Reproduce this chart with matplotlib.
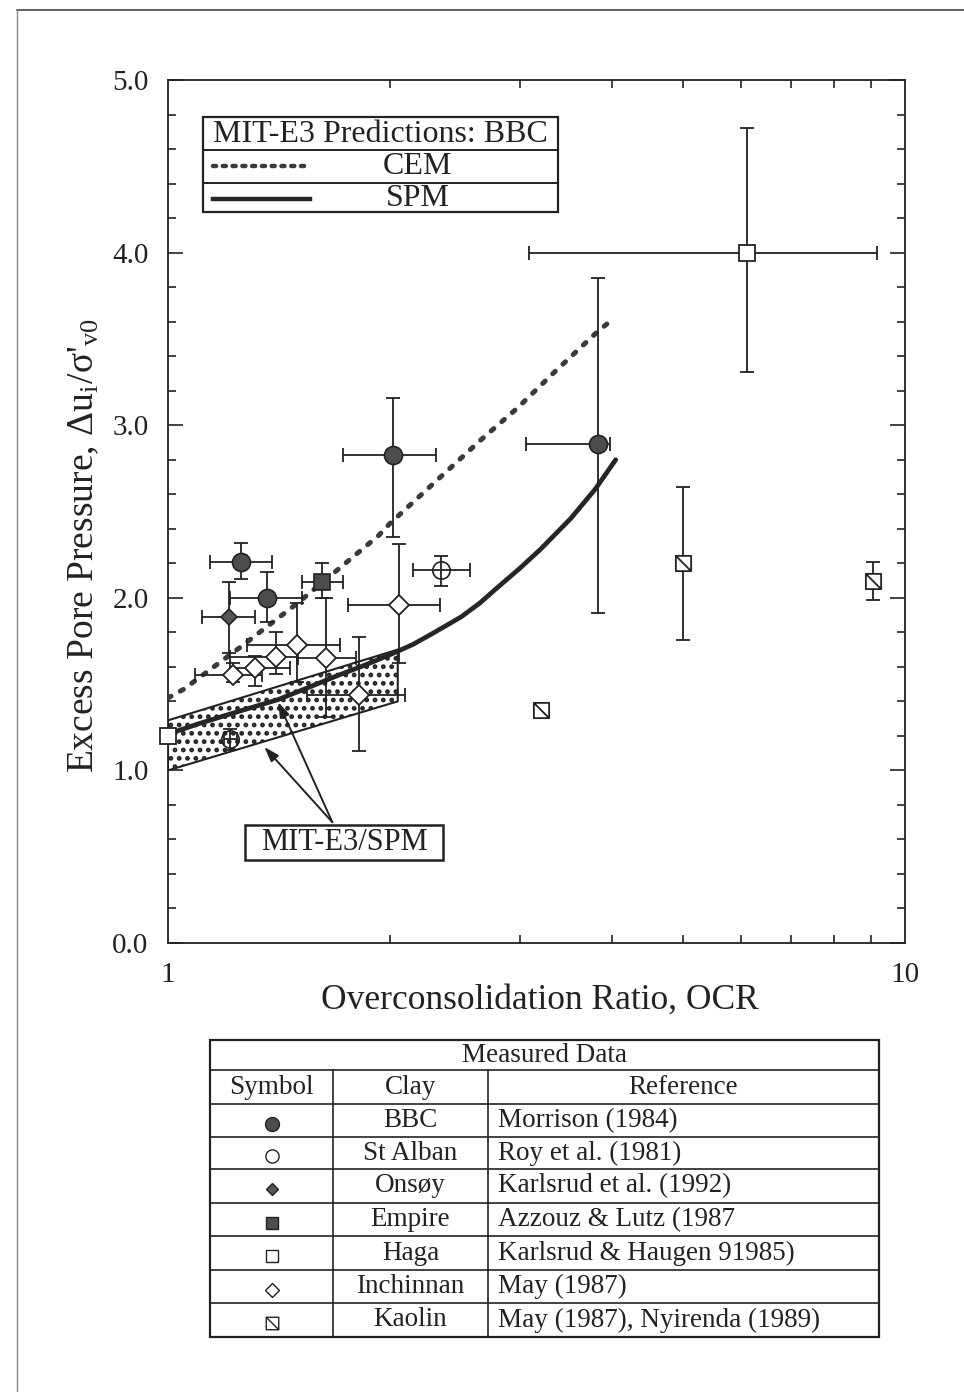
import numpy as np
import matplotlib
matplotlib.use("Agg")
import matplotlib.pyplot as plt
from matplotlib.lines import Line2D
from matplotlib.patches import Rectangle
from matplotlib.path import Path
from matplotlib.ticker import FixedLocator, NullFormatter, FixedFormatter, MultipleLocator

plt.rcParams['font.family'] = ['Liberation Serif', 'DejaVu Serif']
plt.rcParams['mathtext.fontset'] = 'stix'
plt.rcParams['hatch.linewidth'] = 2.2
plt.rcParams['hatch.color'] = '#222222'

# ---------------- data ----------------
# MIT-E3 predictions (BBC)
cem_ocr = [1.0, 1.05, 1.25, 1.5, 1.93, 2.0, 2.65, 2.98, 3.33, 3.8, 4.0]
cem_du = [1.42, 1.47, 1.71, 1.97, 2.36, 2.43, 2.91, 3.10, 3.30, 3.53, 3.61]
spm_ocr = [1.0, 1.1, 1.2, 1.3, 1.41, 1.55, 1.7, 1.85, 2.0, 2.15, 2.3, 2.5, 2.65, 2.8,
           3.0, 3.2, 3.52, 3.8, 4.05]
spm_du = [1.21, 1.27, 1.32, 1.365, 1.41, 1.48, 1.55, 1.61, 1.67, 1.73, 1.80, 1.89, 1.97,
          2.06, 2.17, 2.28, 2.46, 2.63, 2.80]
band_ocr = [1.0, 2.05]
band_lo = [1.00, 1.40]
band_hi = [1.29, 1.70]

# measured data: value, (low, high) in OCR and in du/s'v0
bbc_ocr = [1.257, 1.364, 2.02, 3.83]
bbc_du = [2.21, 2.00, 2.83, 2.89]
bbc_ocr_lo = [1.14, 1.214, 1.725, 3.06]
bbc_ocr_hi = [1.385, 1.521, 2.31, 3.98]
bbc_du_lo = [2.11, 1.86, 2.35, 1.91]
bbc_du_hi = [2.32, 2.15, 3.16, 3.85]

stalban_ocr = [2.35, 1.214]
stalban_du = [2.16, 1.18]
stalban_ocr_lo = [2.15, 1.19]
stalban_ocr_hi = [2.57, 1.24]
stalban_du_lo = [2.07, 1.12]
stalban_du_hi = [2.24, 1.24]

onsoy_ocr = [1.21]
onsoy_du = [1.89]
onsoy_ocr_lo = [1.112]
onsoy_ocr_hi = [1.313]
onsoy_du_lo = [1.68]
onsoy_du_hi = [2.09]

empire_ocr = [1.62]
empire_du = [2.09]
empire_ocr_lo = [1.52]
empire_ocr_hi = [1.725]
empire_du_lo = [2.00]
empire_du_hi = [2.20]

haga_ocr = [6.10, 1.0]
haga_du = [4.00, 1.20]
haga_ocr_lo = [3.09, 1.0]
haga_ocr_hi = [9.15, 1.0]
haga_du_lo = [3.31, 1.20]
haga_du_hi = [4.72, 1.20]

inch_ocr = [2.055, 1.498, 1.40, 1.64, 1.226, 1.313, 1.818]
inch_du = [1.96, 1.727, 1.657, 1.65, 1.553, 1.593, 1.437]
inch_ocr_lo = [1.757, 1.28, 1.214, 1.50, 1.088, 1.214, 1.545]
inch_ocr_hi = [2.34, 1.714, 1.498, 1.80, 1.34, 1.465, 2.10]
inch_du_lo = [1.62, 1.51, 1.56, 1.31, 1.51, 1.49, 1.11]
inch_du_hi = [2.31, 1.97, 1.80, 2.00, 1.62, 1.66, 1.77]

kaolin_ocr = [3.21, 5.0, 9.06]
kaolin_du = [1.35, 2.20, 2.10]
kaolin_du_lo = [1.35, 1.755, 1.99]
kaolin_du_hi = [1.35, 2.64, 2.21]

x_ticks = [1, 10]
x_ticklabels = ['1', '10']
y_ticks = [0, 1, 2, 3, 4, 5]
y_ticklabels = ['0.0', '1.0', '2.0', '3.0', '4.0', '5.0']

table_clays = ['BBC', 'St Alban', 'Onsøy', 'Empire', 'Haga', 'Inchinnan', 'Kaolin']
table_refs = ['Morrison (1984)', 'Roy et al. (1981)', 'Karlsrud et al. (1992)',
              'Azzouz & Lutz (1987', 'Karlsrud & Haugen 91985)', 'May (1987)',
              'May (1987), Nyirenda (1989)']

# ---------------- figure ----------------
W, H = 964, 1392
fig = plt.figure(figsize=(W / 100, H / 100), dpi=100)


def P(x, y):
    """pixel position -> figure fraction"""
    return x / W, 1 - y / H


INK = '#222222'
ax_l, ax_r, ax_t, ax_b = 168, 905, 80, 943
ax = fig.add_axes([ax_l / W, 1 - ax_b / H, (ax_r - ax_l) / W, (ax_b - ax_t) / H])
ax.set_xscale('log')
ax.set_xlim(1, 10)
ax.set_ylim(0, 5)

for s in ax.spines.values():
    s.set_linewidth(1.3)
    s.set_color(INK)

ax.xaxis.set_major_locator(FixedLocator(x_ticks))
ax.xaxis.set_major_formatter(FixedFormatter(x_ticklabels))
ax.xaxis.set_minor_locator(FixedLocator(range(2, 10)))
ax.xaxis.set_minor_formatter(NullFormatter())
ax.yaxis.set_major_locator(FixedLocator(y_ticks))
ax.yaxis.set_major_formatter(FixedFormatter(y_ticklabels))
ax.yaxis.set_minor_locator(MultipleLocator(0.2))
ax.tick_params(which='both', direction='in', top=True, right=True, color=INK, width=1.2,
               labelsize=21, labelcolor=INK)
ax.tick_params(axis='y', which='major', length=11, pad=14)
ax.tick_params(axis='y', which='minor', length=6)
ax.tick_params(axis='x', which='major', length=0, pad=14)
ax.tick_params(axis='x', which='minor', length=6)

# stippled SPM band
ax.fill_between(band_ocr, band_lo, band_hi, facecolor='white', edgecolor=INK,
                hatch='..', linewidth=1.5, zorder=2)

# prediction curves
ax.plot(cem_ocr, cem_du, color='#3a3a3a', lw=3.6, ls=(0, (0.7, 2.1)),
        dash_capstyle='round', zorder=3)
ax.plot(spm_ocr, spm_du, color='#262626', lw=3.4, solid_capstyle='round',
        solid_joinstyle='round', zorder=3)

ebkw = dict(fmt='none', ecolor=INK, elinewidth=1.3, capsize=5, capthick=1.3, zorder=4)


def errs(v, lo, hi):
    v = np.asarray(v, float)
    return [v - np.asarray(lo, float), np.asarray(hi, float) - v]


# kaolin marker: square with a diagonal
kaolin_marker = Path([(-1, -1), (1, -1), (1, 1), (-1, 1), (-1, -1), (-1, 1), (1, -1)],
                     [Path.MOVETO, Path.LINETO, Path.LINETO, Path.LINETO, Path.CLOSEPOLY,
                      Path.MOVETO, Path.LINETO])

groups = [
    (bbc_ocr, bbc_du, bbc_ocr_lo, bbc_ocr_hi, bbc_du_lo, bbc_du_hi,
     dict(marker='o', ms=13, mfc='#4d4d4d', mec=INK, mew=1.2)),
    (stalban_ocr, stalban_du, stalban_ocr_lo, stalban_ocr_hi, stalban_du_lo, stalban_du_hi,
     dict(marker='o', ms=12.5, mfc='none', mec=INK, mew=1.2)),
    (onsoy_ocr, onsoy_du, onsoy_ocr_lo, onsoy_ocr_hi, onsoy_du_lo, onsoy_du_hi,
     dict(marker='D', ms=8.5, mfc='#555555', mec=INK, mew=1.2)),
    (empire_ocr, empire_du, empire_ocr_lo, empire_ocr_hi, empire_du_lo, empire_du_hi,
     dict(marker='s', ms=11, mfc='#4d4d4d', mec=INK, mew=1.2)),
    (haga_ocr, haga_du, haga_ocr_lo, haga_ocr_hi, haga_du_lo, haga_du_hi,
     dict(marker='s', ms=11.5, mfc='white', mec=INK, mew=1.3)),
    (inch_ocr, inch_du, inch_ocr_lo, inch_ocr_hi, inch_du_lo, inch_du_hi,
     dict(marker='D', ms=10, mfc='white', mec=INK, mew=1.3)),
    (kaolin_ocr, kaolin_du, kaolin_ocr, kaolin_ocr, kaolin_du_lo, kaolin_du_hi,
     dict(marker=kaolin_marker, ms=11, mfc='white', mec=INK, mew=1.3)),
]
for ox, oy, xlo, xhi, ylo, yhi, mk in groups:
    ax.errorbar(ox, oy, xerr=errs(ox, xlo, xhi), yerr=errs(oy, ylo, yhi), **ebkw)
    ax.plot(ox, oy, ls='none', zorder=5, clip_on=False, **mk)

# MIT-E3/SPM label with pointers
arrow_kw = dict(arrowstyle='-|>,head_length=0.9,head_width=0.3', color=INK, lw=1.4,
                shrinkA=0, shrinkB=0)
ax.annotate('', xy=(1.411, 1.396), xytext=(1.671, 0.70), arrowprops=arrow_kw, zorder=6)
ax.annotate('', xy=(1.351, 1.136), xytext=(1.671, 0.70), arrowprops=arrow_kw, zorder=6)
fig.patches.append(Rectangle(P(245, 860), 198 / W, 35 / H, transform=fig.transFigure,
                             facecolor='white', edgecolor=INK, lw=1.8, zorder=1))
fig.text(*P(344, 843), 'MIT-E3/SPM', ha='center', va='center', fontsize=22, color=INK,
         zorder=7)

# prediction legend box
lx0, lx1, ly0, ly1 = 203, 558, 117, 212
fig.patches.append(Rectangle(P(lx0, ly1), (lx1 - lx0) / W, (ly1 - ly0) / H,
                             transform=fig.transFigure, facecolor='white', edgecolor=INK,
                             lw=1.6, zorder=1))
for yy in (150, 183):
    fig.add_artist(Line2D([lx0 / W, lx1 / W], [1 - yy / H] * 2, color=INK, lw=1.4, zorder=6))
fig.text(*P(380, 134), 'MIT-E3 Predictions: BBC', ha='center', va='center',
         fontsize=23, color=INK, zorder=7)
fig.add_artist(Line2D([213 / W, 305 / W], [1 - 166 / H] * 2, color='#3a3a3a', lw=3.2,
                      ls=(0, (0.7, 1.5)), dash_capstyle='round', zorder=6))
fig.text(*P(418, 166), 'CEM', ha='center', va='center', fontsize=23, color=INK, zorder=7)
fig.add_artist(Line2D([213 / W, 310 / W], [1 - 199 / H] * 2, color='#262626', lw=3.2,
                      zorder=6))
fig.text(*P(418, 199), 'SPM', ha='center', va='center', fontsize=23, color=INK, zorder=7)

# axis titles
fig.text(*P(540, 1000), 'Overconsolidation Ratio, OCR', ha='center', va='center',
         fontsize=25.5, color=INK)
fig.text(*P(84, 545), "Excess Pore Pressure, Δu$_{\\mathregular{i}}$/σ'$_{\\mathregular{v0}}$",
         ha='center', va='center', rotation=90, fontsize=27, color=INK)

# measured-data table
tx0, tx1, ty0, ty1 = 210, 879, 1040, 1337
c1, c2 = 333, 488
rows = [1070, 1104, 1137, 1169, 1203, 1236, 1270, 1303]
fig.patches.append(Rectangle(P(tx0, ty1), (tx1 - tx0) / W, (ty1 - ty0) / H,
                             transform=fig.transFigure, facecolor='none', edgecolor=INK,
                             lw=1.6))
for yy in rows:
    fig.add_artist(Line2D([tx0 / W, tx1 / W], [1 - yy / H] * 2, color=INK, lw=1.2))
for xx in (c1, c2):
    fig.add_artist(Line2D([xx / W] * 2, [1 - rows[0] / H, 1 - ty1 / H], color=INK, lw=1.2))

TFS = 19.5
fig.text(*P((tx0 + tx1) / 2, 1055), 'Measured Data', ha='center', va='center',
         fontsize=TFS, color=INK)
fig.text(*P((tx0 + c1) / 2, 1087), 'Symbol', ha='center', va='center', fontsize=TFS, color=INK)
fig.text(*P((c1 + c2) / 2, 1087), 'Clay', ha='center', va='center', fontsize=TFS, color=INK)
fig.text(*P((c2 + tx1) / 2, 1087), 'Reference', ha='center', va='center', fontsize=TFS,
         color=INK)

table_marks = [
    dict(marker='o', ms=10, mfc='#4d4d4d', mec=INK, mew=1.0),
    dict(marker='o', ms=9.5, mfc='white', mec=INK, mew=1.0),
    dict(marker='D', ms=6.5, mfc='#555555', mec=INK, mew=1.0),
    dict(marker='s', ms=9, mfc='#4d4d4d', mec=INK, mew=1.0),
    dict(marker='s', ms=9, mfc='white', mec=INK, mew=1.0),
    dict(marker='D', ms=7, mfc='white', mec=INK, mew=1.0),
    dict(marker=kaolin_marker, ms=9, mfc='white', mec=INK, mew=1.0),
]
row_edges = rows[1:] + [ty1]
for i, (clay, ref, mk) in enumerate(zip(table_clays, table_refs, table_marks)):
    yc = (row_edges[i] + row_edges[i + 1]) / 2
    fig.add_artist(Line2D([272 / W], [1 - (yc + 3) / H], ls='none', **mk))
    fig.text(*P((c1 + c2) / 2, yc), clay, ha='center', va='center', fontsize=TFS, color=INK)
    fig.text(*P(c2 + 10, yc), ref, ha='left', va='center', fontsize=TFS, color=INK)

# page frame
fig.add_artist(Line2D([17 / W, 1.0], [1 - 10 / H] * 2, color='#444444', lw=1.2))
fig.add_artist(Line2D([17 / W] * 2, [1 - 10 / H, 0.0], color='#888888', lw=1.0))

fig.savefig('out.png', dpi=100)
